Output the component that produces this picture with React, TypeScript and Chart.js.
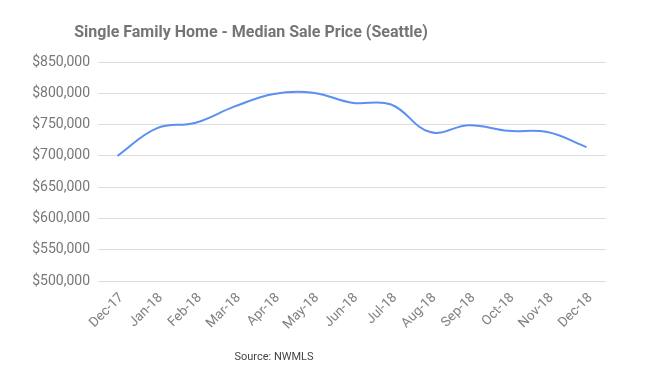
import React, { useEffect, useRef } from "react";
import { Chart, registerables } from "chart.js";

Chart.register(...registerables);

const months = ["Dec-17", "Jan-18", "Feb-18", "Mar-18", "Apr-18", "May-18", "Jun-18", "Jul-18", "Aug-18", "Sep-18", "Oct-18", "Nov-18", "Dec-18"];
const medianPrice = [700000, 744000, 753000, 779000, 799000, 801000, 785000, 782000, 738000, 749000, 740000, 738000, 714000];
const titleText = "Single Family Home - Median Sale Price (Seattle)";
const sourceText = "Source: NWMLS";
const yMin = 500000;
const yMax = 850000;
const yStep = 50000;

const textPlugin = {
  id: "textPlugin",
  afterDraw(chart: any) {
    const ctx = chart.ctx;
    ctx.save();
    ctx.fillStyle = "#757575";
    ctx.font = "bold 16px Roboto";
    ctx.textAlign = "center";
    ctx.textBaseline = "middle";
    ctx.fillText(titleText, 243, 25);
    ctx.fillStyle = "#444444";
    ctx.font = "11px Roboto";
    ctx.fillText(sourceText, 266, 349);
    ctx.restore();
  },
};

export default function App() {
  const ref = useRef<HTMLCanvasElement>(null);
  useEffect(() => {
    if (!ref.current) return;
    const chart = new Chart(ref.current, {
      type: "line",
      data: {
        labels: months,
        datasets: [
          {
            data: medianPrice,
            borderColor: "#5b8ff0",
            borderWidth: 2,
            pointRadius: 0,
            tension: 0.4,
            fill: false,
          },
        ],
      },
      options: {
        animation: false,
        responsive: true,
        maintainAspectRatio: false,
        layout: { padding: { left: 0, right: 54, top: 54, bottom: 0 } },
        plugins: { legend: { display: false }, title: { display: false }, tooltip: { enabled: false } },
        scales: {
          x: {
            offset: true,
            grid: { display: false, drawTicks: false },
            border: { display: false },
            afterFit: (s: any) => { s.height = 90; },
            ticks: {
              maxRotation: 45,
              minRotation: 45,
              autoSkip: false,
              padding: 9,
              labelOffset: 4,
              color: "#808080",
              font: { family: "Roboto", size: 13.5 },
            },
          },
          y: {
            min: yMin,
            max: yMax,
            afterFit: (s: any) => { s.width = 90; },
            grid: { color: "#dddddd", lineWidth: 1, drawTicks: false },
            border: { display: false },
            ticks: {
              stepSize: yStep,
              padding: 8,
              color: "#777777",
              font: { family: "Roboto", size: 14 },
              callback: (v: any) => "$" + Number(v).toLocaleString("en-US"),
            },
          },
        },
      },
      plugins: [textPlugin],
    });
    return () => chart.destroy();
  }, []);
  return (
    <div style={{ width: 652, height: 363, position: "relative" }}>
      <canvas ref={ref} />
    </div>
  );
}
